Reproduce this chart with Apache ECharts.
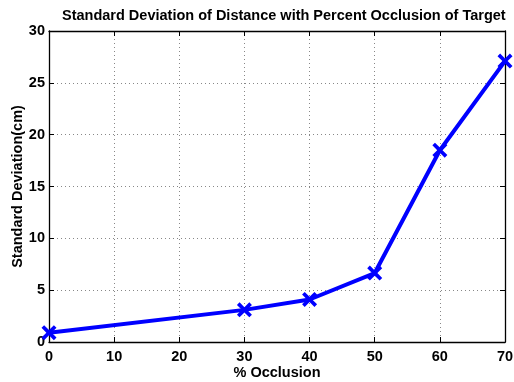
<!DOCTYPE html>
<html><head><meta charset="utf-8">
<script src="https://cdn.jsdelivr.net/npm/echarts@6/dist/echarts.min.js"></script>
<style>html,body{margin:0;padding:0;background:#fff}#c{width:514px;height:382px}</style>
</head><body><div id="c"></div>
<script>
var occlusion = [0, 30, 40, 50, 60, 70];
var stdDev = [0.9, 3.1, 4.1, 6.65, 18.5, 27.1];
var xTicks = [0, 10, 20, 30, 40, 50, 60, 70];
var yTicks = [0, 5, 10, 15, 20, 25, 30];

var FONT = 'Liberation Sans, Arial, Helvetica, sans-serif';
var crossPath = 'path://M3.5,0L10,6.5L16.5,0L20,3.5L13.5,10L20,16.5L16.5,20L10,13.5L3.5,20L0,16.5L6.5,10L0,3.5Z';
var chart = echarts.init(document.getElementById('c'));
function axisBase(extra){
  return Object.assign({
    type:'value',
    axisLine:{show:true,onZero:false,lineStyle:{color:'#000',width:1.3}},
    axisTick:{show:true,inside:true,length:5,lineStyle:{color:'#000'}},
    splitLine:{show:false},
    axisLabel:{show:false}
  }, extra);
}
chart.setOption({
  animation:false,
  title:{text:'Standard Deviation of Distance with Percent Occlusion of Target',left:57,top:3,
    textStyle:{fontFamily:FONT,fontWeight:'bold',fontSize:14.5,color:'#000'}},
  grid:{left:49,right:9,top:31,bottom:40,show:false,containLabel:false,outerBoundsMode:'none'},
  xAxis:[
    axisBase({min:0,max:70,interval:10,position:'bottom',
      name:'% Occlusion',nameLocation:'middle',nameGap:23,nameMoveOverlap:false,
      nameTextStyle:{fontFamily:FONT,fontWeight:'bold',fontSize:14.5,color:'#000'},
      axisLabel:{show:true,fontFamily:FONT,fontWeight:'bold',fontSize:14.5,color:'#000',margin:7},
      splitLine:{show:true,lineStyle:{color:'#888',type:[1,3],width:1}}}),
    axisBase({min:0,max:70,interval:10,position:'top'})
  ],
  yAxis:[
    axisBase({min:0,max:30,interval:5,position:'left',
      name:'Standard Deviation(cm)',nameLocation:'middle',nameGap:24,nameMoveOverlap:false,
      nameTextStyle:{fontFamily:FONT,fontWeight:'bold',fontSize:14.5,color:'#000'},
      axisLabel:{show:true,fontFamily:FONT,fontWeight:'bold',fontSize:14.5,color:'#000',margin:4},
      splitLine:{show:true,lineStyle:{color:'#888',type:[1,3],width:1}}}),
    axisBase({min:0,max:30,interval:5,position:'right'})
  ],
  series:[{
    type:'line',
    data:occlusion.map(function(x,i){return [x,stdDev[i]];}),
    lineStyle:{color:'#0000ff',width:4},
    itemStyle:{color:'#0000ff'},
    symbol:crossPath,symbolSize:15,showAllSymbol:true,
    clip:false
  }]
});
</script></body></html>
